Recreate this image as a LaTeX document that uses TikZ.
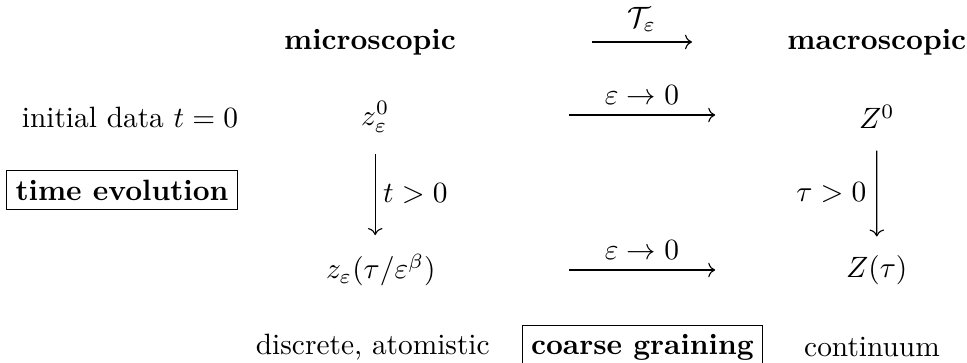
\documentclass[tikz,border=0pt]{standalone}
\usepackage{amsmath,amssymb}
\usetikzlibrary{arrows.meta,positioning}
\tikzset{
  hdr/.style={font=\bfseries},
  framed/.style={draw,font=\bfseries,inner sep=3pt},
}
\begin{document}
\begin{tikzpicture}[>=To,every node/.style={scale=1.045}]
  \useasboundingbox (0,0) rectangle (12.0875,-4.5375);
  % column headers
  \node[hdr] (micro) at (4.625,-0.525) {microscopic};
  \node[hdr] (macro) at (10.96,-0.525) {macroscopic};
  % first row
  \node (init) at (1.625,-1.4625) {initial data $t=0$};
  \node (z0) at (4.69,-1.4625) {$z_\varepsilon^0$};
  \node (Z0) at (10.96,-1.4625) {$Z^0$};
  % second row
  \node (zt) at (4.76,-3.375) {$z_\varepsilon(\tau/\varepsilon^\beta)$};
  \node (Zt) at (10.96,-3.375) {$Z(\tau)$};
  % bottom row
  \node (discr) at (4.66,-4.34) {discrete, atomistic};
  \node[framed] (coarse) at (8.03,-4.34) {coarse graining};
  \node (cont) at (10.9,-4.34) {continuum};
  \node[framed] (evol) at (1.525,-2.375) {time evolution};
  % horizontal arrows
  \coordinate (ta) at (7.4,-0.525);
  \coordinate (tb) at (8.65,-0.525);
  \coordinate (ua) at (7.11,-1.4375);
  \coordinate (ub) at (8.94,-1.4375);
  \coordinate (la) at (7.11,-3.375);
  \coordinate (lb) at (8.94,-3.375);
  \draw[->] (ta) -- node[above] (T) {$\mathcal{T}_\varepsilon$} (tb);
  \draw[->] (ua) -- node[above] (eps1) {$\varepsilon\to 0$} (ub);
  \draw[->] (la) -- node[above] (eps2) {$\varepsilon\to 0$} (lb);
  % vertical arrows
  \draw[->,shorten <=4pt,shorten >=3pt] (z0.south -| z0.center) -- node[right,inner sep=2.5pt] (tpos) {$t>0$} (z0.center |- zt.north);
  \draw[->,shorten <=4pt,shorten >=3pt] (Z0) -- node[left] (taupos) {$\tau>0$} (Zt);
\end{tikzpicture}
\end{document}
